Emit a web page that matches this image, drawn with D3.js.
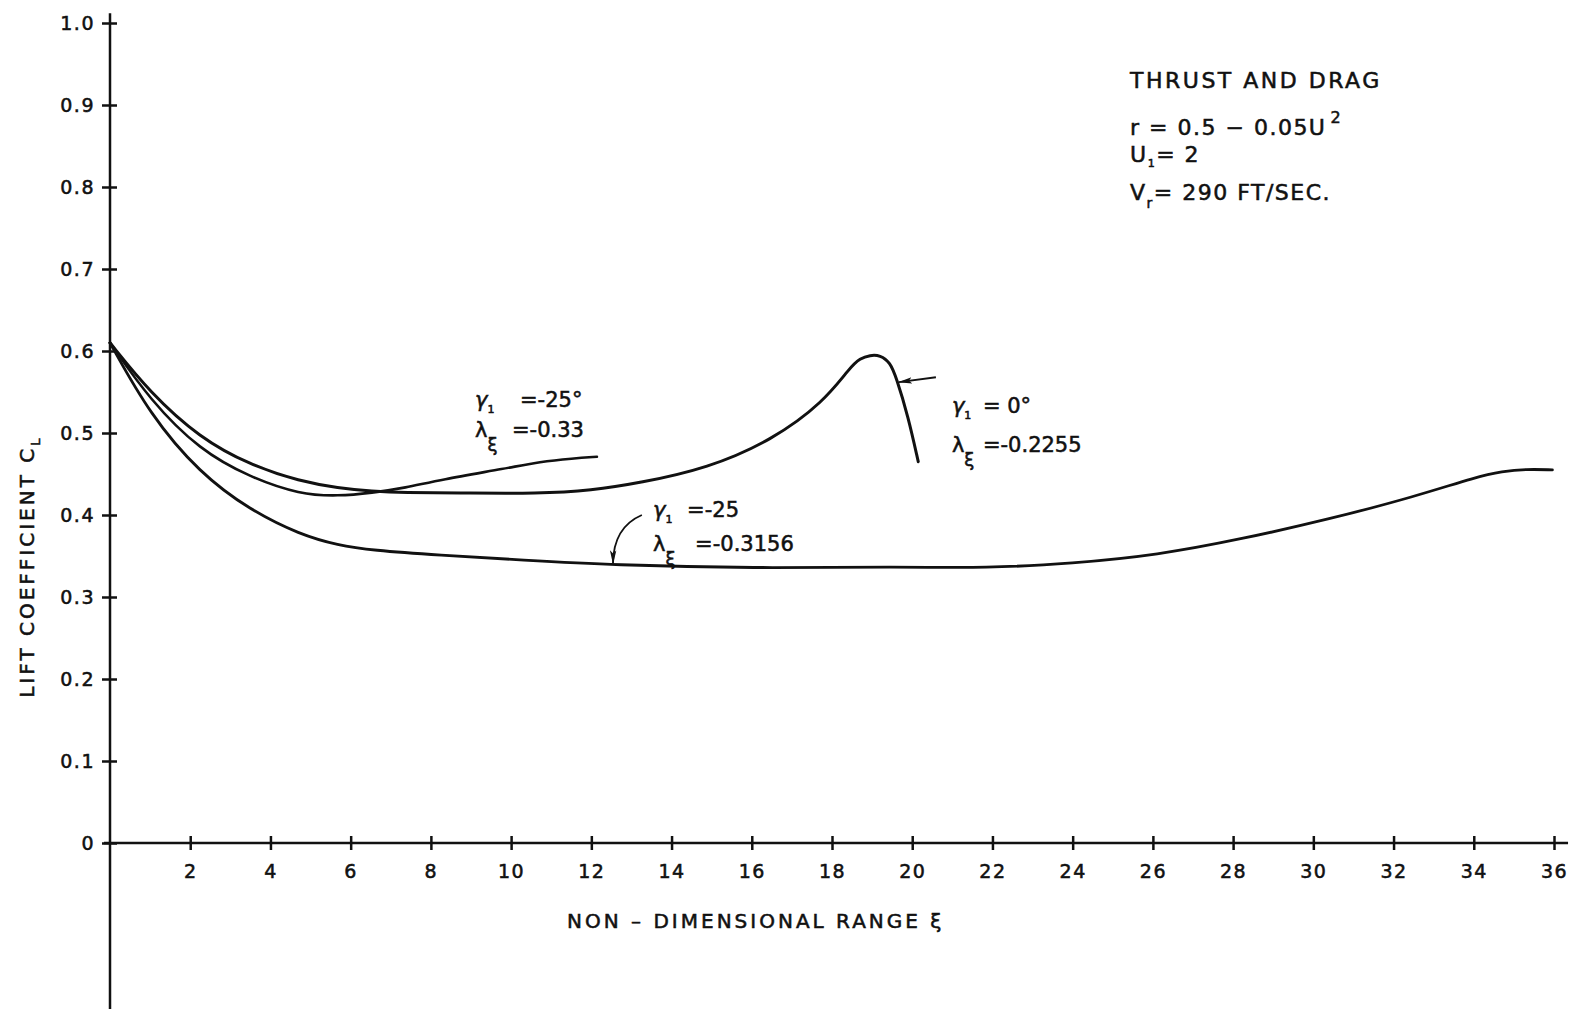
<!DOCTYPE html>
<html>
<head>
<meta charset="utf-8">
<script src="https://cdn.jsdelivr.net/npm/d3@7"></script>
<style>
  body { margin: 0; background: #fff; }
  svg text { font-family: "DejaVu Sans", sans-serif; fill: #111; stroke: #111; stroke-width: 0.55px; }
</style>
</head>
<body>
<svg id="chart"></svg>
<script>
// tick values
const xTicks = d3.range(2, 37, 2);
const yTicks = d3.range(0, 11).map(d => d / 10);

// gamma1 = 0 deg, lambda = -0.2255
const xiG0 = [0, 1.0, 2.24, 3.49, 4.74, 5.69, 6.53, 7.36, 8.6, 10.72, 12, 13.2, 14.9, 16.5, 17.8, 18.45, 18.7, 18.95, 19.2, 19.45, 19.6, 19.9, 20.15];
const clG0 = [0.61, 0.549, 0.494, 0.461, 0.441, 0.433, 0.429, 0.427, 0.427, 0.426, 0.430, 0.439, 0.457, 0.491, 0.538, 0.580, 0.591, 0.595, 0.595, 0.586, 0.568, 0.520, 0.465];

// gamma1 = -25 deg, lambda = -0.33
const xiG25a = [0, 1.0, 2.24, 3.49, 4.74, 5.69, 6.53, 7.36, 8.23, 9.9, 10.72, 11.54, 12.14];
const clG25a = [0.61, 0.540, 0.479, 0.446, 0.425, 0.423, 0.427, 0.433, 0.443, 0.457, 0.465, 0.469, 0.471];

// gamma1 = -25, lambda = -0.3156
const xiG25b = [0, 1.0, 2.24, 3.49, 4.74, 5.69, 6.53, 8.18, 10.3, 12.54, 16.0, 19.7, 21.85, 24.0, 26.1, 28.25, 30.4, 32.5, 34.1, 34.7, 35.3, 35.96];
const clG25b = [0.61, 0.522, 0.451, 0.406, 0.376, 0.363, 0.357, 0.351, 0.345, 0.339, 0.335, 0.337, 0.335, 0.341, 0.351, 0.371, 0.395, 0.422, 0.447, 0.453, 0.456, 0.455];

const width = 1573, height = 1009;

const svg = d3.select("#chart")
    .attr("width", width)
    .attr("height", height);

const x = d3.scaleLinear().domain([0, 36]).range([110, 1554]);
const y = d3.scaleLinear().domain([0, 1]).range([843, 23]);

// arrow head
svg.append("defs").append("marker")
    .attr("id", "arrow")
    .attr("viewBox", "0 0 14 8")
    .attr("refX", 13).attr("refY", 4)
    .attr("markerWidth", 14).attr("markerHeight", 8)
    .attr("markerUnits", "userSpaceOnUse")
    .attr("orient", "auto")
    .append("path")
    .attr("d", "M0,0.8 L14,4 L0,7.2 L3,4 Z")
    .attr("fill", "#111");

// axis lines (y axis runs down past zero, x axis a little past 36)
svg.append("line")
    .attr("x1", x(0)).attr("x2", x(0))
    .attr("y1", y(1.012)).attr("y2", height)
    .attr("stroke", "#111").attr("stroke-width", 2.5);

svg.append("line")
    .attr("x1", x(-0.15)).attr("x2", x(36.35))
    .attr("y1", y(0)).attr("y2", y(0))
    .attr("stroke", "#111").attr("stroke-width", 2.5);

const yAxis = d3.axisLeft(y)
    .tickValues(yTicks)
    .tickFormat(d => d === 0 ? "0" : d3.format(".1f")(d))
    .tickSize(8)
    .tickPadding(7);

const gy = svg.append("g")
    .attr("transform", `translate(${x(0)},0)`)
    .call(yAxis);
gy.select(".domain").remove();
gy.selectAll(".tick line").attr("x1", 7).attr("stroke", "#111").attr("stroke-width", 2.5);
gy.selectAll(".tick text").attr("font-size", 19).attr("letter-spacing", 1.5);

const xAxis = d3.axisBottom(x)
    .tickValues(xTicks)
    .tickSize(7)
    .tickPadding(15);

const gx = svg.append("g")
    .attr("transform", `translate(0,${y(0)})`)
    .call(xAxis);
gx.select(".domain").remove();
gx.selectAll(".tick line").attr("y1", -7).attr("stroke", "#111").attr("stroke-width", 2.5);
gx.selectAll(".tick text").attr("font-size", 19).attr("letter-spacing", 1.5);

// axis titles
svg.append("text")
    .attr("x", x(16.1))
    .attr("y", y(0) + 85)
    .attr("text-anchor", "middle")
    .attr("font-size", 20)
    .attr("letter-spacing", 3)
    .text("NON – DIMENSIONAL RANGE ξ");

const yTitle = svg.append("text")
    .attr("transform", `translate(34,${y(0.337)}) rotate(-90)`)
    .attr("text-anchor", "middle")
    .attr("font-size", 20)
    .attr("letter-spacing", 3);
yTitle.append("tspan").text("LIFT COEFFICIENT C");
yTitle.append("tspan").text("L").attr("font-size", 13).attr("dy", 6);

// curves
const line = d3.line()
    .x(d => x(d[0]))
    .y(d => y(d[1]))
    .curve(d3.curveBasis);

const series = [
    { xi: xiG0, cl: clG0, w: 3 },
    { xi: xiG25a, cl: clG25a, w: 2.6 },
    { xi: xiG25b, cl: clG25b, w: 2.8 }
];

svg.selectAll(".curve")
    .data(series)
    .join("path")
    .attr("class", "curve")
    .attr("d", s => line(d3.zip(s.xi, s.cl)))
    .attr("fill", "none")
    .attr("stroke", "#111")
    .attr("stroke-width", s => s.w)
    .attr("stroke-linecap", "round");

// curve labels
function curveLabel(xi, cl, gammaText, lambdaText, gap1, gap2, lineGap) {
    const px = x(xi), py = y(cl);
    const t1 = svg.append("text").attr("x", px).attr("y", py).attr("font-size", 21);
    t1.append("tspan").text("γ").attr("font-style", "italic");
    t1.append("tspan").text("1").attr("font-size", 11).attr("dy", 6);
    t1.append("tspan").text(gammaText).attr("x", px + gap1).attr("dy", -6);

    const t2 = svg.append("text").attr("x", px).attr("y", py + lineGap).attr("font-size", 21);
    t2.append("tspan").text("λ");
    t2.append("tspan").text("ξ").attr("font-size", 18).attr("dy", 14);
    t2.append("tspan").text(lambdaText).attr("x", px + gap2).attr("dy", -14);
}

curveLabel(9.1, 0.532, "=-25°", "=-0.33", 45, 37, 30);
curveLabel(13.54, 0.398, "=-25", "=-0.3156", 34, 42, 34);
curveLabel(20.99, 0.524, "= 0°", "=-0.2255", 31, 31, 39);

// leader arrows
svg.append("line")
    .attr("x1", x(20.59)).attr("y1", y(0.568))
    .attr("x2", x(19.67)).attr("y2", y(0.562))
    .attr("stroke", "#111").attr("stroke-width", 1.8)
    .attr("marker-end", "url(#arrow)");

svg.append("path")
    .attr("d", `M${x(13.26)},${y(0.40)} Q${x(12.55)},${y(0.385)} ${x(12.54)},${y(0.341)}`)
    .attr("fill", "none")
    .attr("stroke", "#111").attr("stroke-width", 1.8)
    .attr("marker-end", "url(#arrow)");

// parameter block
const lx = x(25.43);
svg.append("text").attr("x", lx).attr("y", y(0.921))
    .attr("font-size", 22).attr("letter-spacing", 2.5)
    .text("THRUST AND DRAG");

const r = svg.append("text").attr("x", lx).attr("y", y(0.863)).attr("font-size", 22).attr("letter-spacing", 1.5);
r.append("tspan").text("r = 0.5 − 0.05U");
r.append("tspan").text("2").attr("font-size", 16).attr("dy", -12).attr("dx", 4);

const u = svg.append("text").attr("x", lx).attr("y", y(0.830)).attr("font-size", 22).attr("letter-spacing", 1.5);
u.append("tspan").text("U");
u.append("tspan").text("1").attr("font-size", 11).attr("dy", 5);
u.append("tspan").text("= 2").attr("dy", -5);

const v = svg.append("text").attr("x", lx).attr("y", y(0.784)).attr("font-size", 22).attr("letter-spacing", 1.5);
v.append("tspan").text("V");
v.append("tspan").text("r").attr("font-size", 14).attr("dy", 8);
v.append("tspan").text("= 290 FT/SEC.").attr("dy", -8);
</script>
</body>
</html>
